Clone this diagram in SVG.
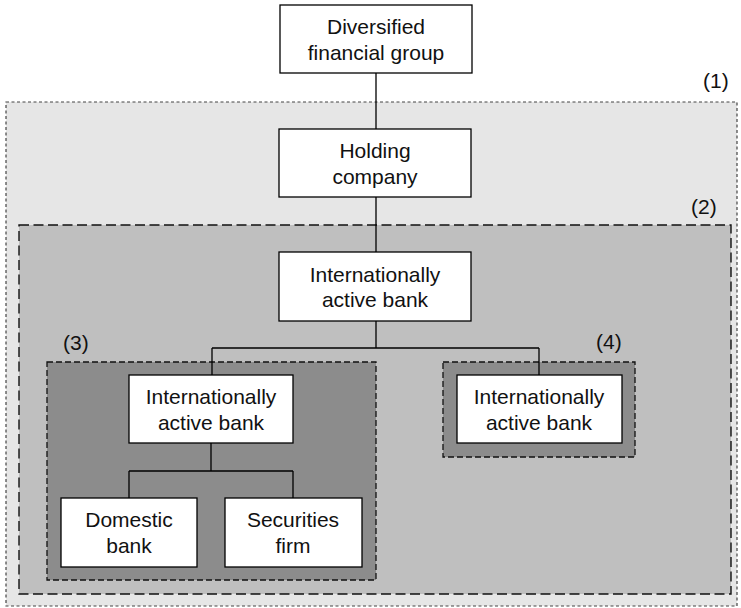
<svg xmlns="http://www.w3.org/2000/svg" width="741" height="608" viewBox="0 0 741 608">
<style>
.node rect{fill:#fff;stroke:#000;stroke-width:1.3}
text{font-family:"Liberation Sans",Arial,sans-serif;font-size:21px;fill:#111;text-anchor:middle}
.lbl{text-anchor:start}
.conn{fill:none;stroke:#000;stroke-width:1.3}
.g1{fill:#e6e6e6;stroke:#444;stroke-width:1.2;stroke-dasharray:3,2.5}
.g2{fill:#bfbfbf;stroke:#111;stroke-width:1.4;stroke-dasharray:10,4.5}
.g3{fill:#8c8c8c;stroke:#111;stroke-width:1.3;stroke-dasharray:6,3}
</style>
<rect width="741" height="608" fill="#fff"/>
<g id="region1"><rect class="g1" x="6" y="102" width="731" height="504"/><text class="lbl" x="703" y="88">(1)</text></g>
<g id="region2"><rect class="g2" x="19" y="225" width="712" height="369"/><text class="lbl" x="691" y="214">(2)</text></g>
<g id="region3"><rect class="g3" x="47" y="362" width="329" height="218"/><text class="lbl" x="63" y="350">(3)</text></g>
<g id="region4"><rect class="g3" x="443" y="362" width="192" height="95"/><text class="lbl" x="596" y="349">(4)</text></g>
<g id="connectors">
<path class="conn" d="M376 73V129M376 197V252M376 321V348M212 348H539M212 348V375M539 348V375M211 443V471M129 471H293M129 471V498M293 471V498"/>
</g>
<g id="n-diversified" class="node"><rect x="280" y="5" width="192" height="68"/><text x="376" y="34">Diversified</text><text x="376" y="60">financial group</text></g>
<g id="n-holding" class="node"><rect x="279" y="129" width="192" height="68"/><text x="375" y="158">Holding</text><text x="375" y="184">company</text></g>
<g id="n-iab-main" class="node"><rect x="279" y="252" width="192" height="69"/><text x="375" y="282">Internationally</text><text x="375" y="307">active bank</text></g>
<g id="n-iab-left" class="node"><rect x="129" y="375" width="164" height="68"/><text x="211" y="404">Internationally</text><text x="211" y="430">active bank</text></g>
<g id="n-iab-right" class="node"><rect x="457" y="375" width="165" height="68"/><text x="539" y="404">Internationally</text><text x="539" y="430">active bank</text></g>
<g id="n-domestic" class="node"><rect x="61" y="498" width="136" height="69"/><text x="129" y="527">Domestic</text><text x="129" y="553">bank</text></g>
<g id="n-securities" class="node"><rect x="225" y="498" width="137" height="69"/><text x="293" y="527">Securities</text><text x="293" y="553">firm</text></g>
</svg>
